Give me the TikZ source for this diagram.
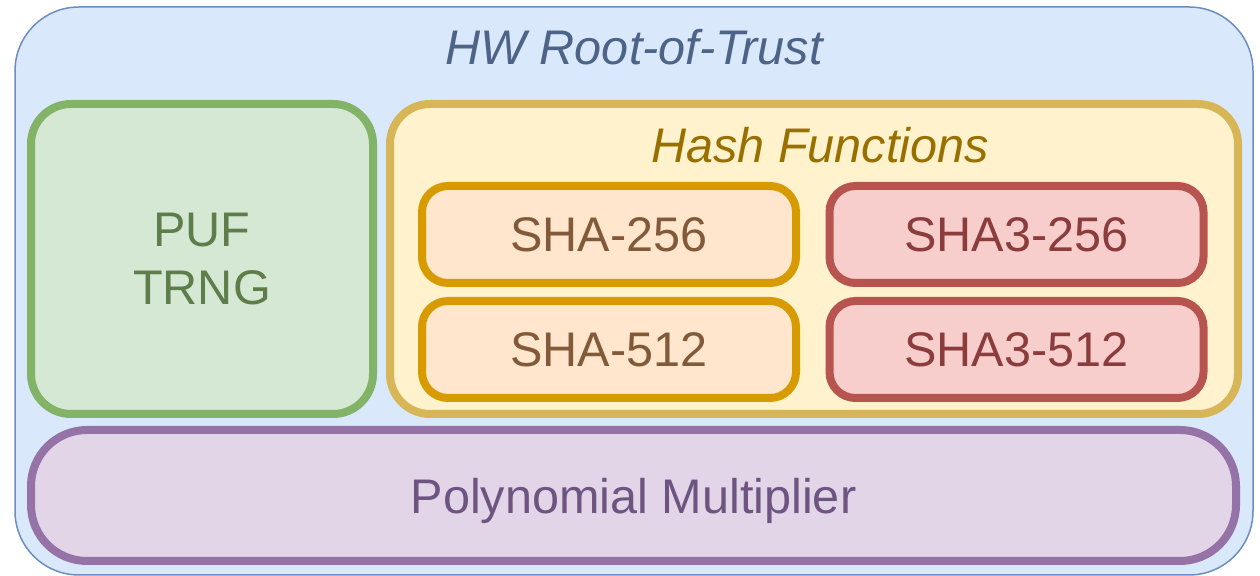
\documentclass[tikz,border=0pt]{standalone}
\usepackage{fontspec}
\setmainfont{Liberation Sans}
\usepackage{xcolor}
\usepackage{tikz}
\usetikzlibrary{positioning}

\definecolor{rotFill}{HTML}{DAE8FC}
\definecolor{rotLine}{HTML}{6C8EBF}
\definecolor{rotText}{HTML}{4D6388}
\definecolor{pufFill}{HTML}{D5E8D4}
\definecolor{pufLine}{HTML}{82B366}
\definecolor{pufText}{HTML}{5E7D4A}
\definecolor{hashFill}{HTML}{FFF2CC}
\definecolor{hashLine}{HTML}{D6B656}
\definecolor{hashText}{HTML}{997000}
\definecolor{shaFill}{HTML}{FFE6CC}
\definecolor{shaLine}{HTML}{D79B00}
\definecolor{shaText}{HTML}{825A3A}
\definecolor{keccakFill}{HTML}{F8CECC}
\definecolor{keccakLine}{HTML}{B85450}
\definecolor{keccakText}{HTML}{8B3C3C}
\definecolor{polyFill}{HTML}{E1D5E7}
\definecolor{polyLine}{HTML}{9673A6}
\definecolor{polyText}{HTML}{6E5480}

\begin{document}
\begin{tikzpicture}[x=0.5pt, y=-0.5pt,
    font=\fontsize{24.3}{29}\selectfont,
    blockbox/.style={draw, rectangle, inner sep=0pt, text depth=0pt,
      line width=4pt, rounded corners=20pt},
    shabox/.style={blockbox, minimum width=187pt, minimum height=48.5pt,
      rounded corners=13pt, fill=shaFill, draw=shaLine, text=shaText},
    keccakbox/.style={shabox, fill=keccakFill, draw=keccakLine, text=keccakText}]
  \useasboundingbox (0,0) rectangle (1260,576);
  % Root-of-trust frame
  \node[draw=rotLine, fill=rotFill, line width=0.75pt, rounded corners=32pt,
    minimum width=619pt, minimum height=284pt] (rot) at (634,291) {};
  \node[text=rotText, font=\fontsize{24.3}{29}\itshape] (rottitle) at (634,47) {HW Root-of-Trust};
  % PUF / TRNG
  \node[blockbox, fill=pufFill, draw=pufLine, text=pufText, align=center,
    minimum width=171pt, minimum height=155pt] (puf) at (202,259) {PUF\\TRNG};
  % Hash functions group
  \node[blockbox, fill=hashFill, draw=hashLine,
    minimum width=424pt, minimum height=155pt] (hash) at (814,259) {};
  \node[text=hashText, font=\fontsize{24.3}{29}\itshape] (hashtitle) at (820,145) {Hash Functions};
  \node[shabox] (sha256) at (609,234.5) {SHA-256};
  \node[shabox] (sha512) at (609,349.5) {SHA-512};
  \node[keccakbox] (sha3a) at (1016.5,234.5) {SHA3-256};
  \node[keccakbox] (sha3b) at (1016.5,349.5) {SHA3-512};
  % Multiplier
  \node[blockbox, fill=polyFill, draw=polyLine, text=polyText, rounded corners=28pt,
    minimum width=602.5pt, minimum height=65.5pt] (poly) at (633.5,495.5) {Polynomial Multiplier};
\end{tikzpicture}
\end{document}
